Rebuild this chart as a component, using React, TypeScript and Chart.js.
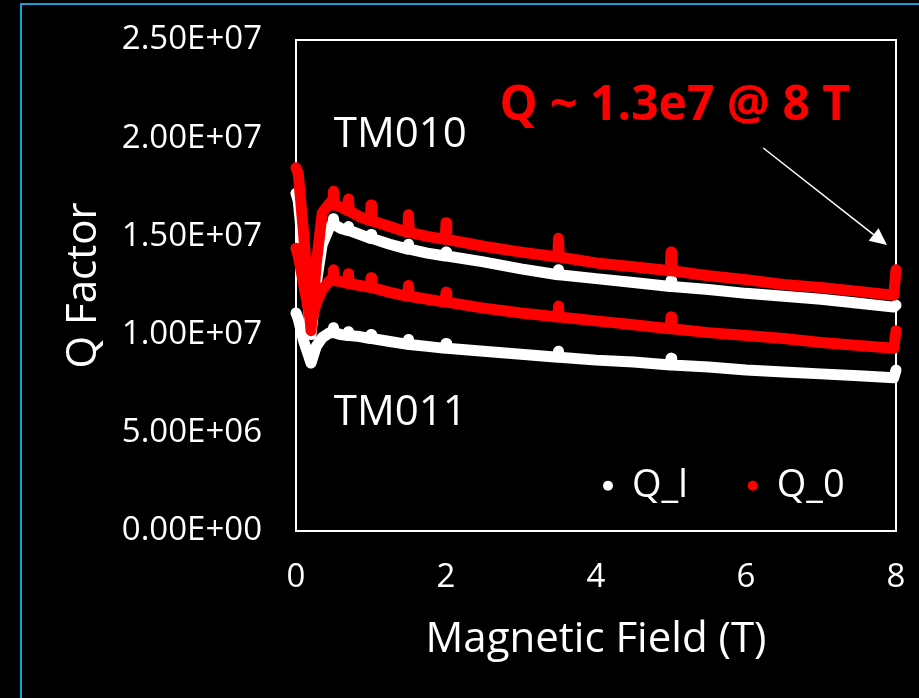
import React, { useEffect, useRef } from 'react';
import { Chart, registerables } from 'chart.js';

Chart.register(...registerables);

const FONT = '"Open Sans", "DejaVu Sans", sans-serif';

// Magnetic field (T) sample positions shared by all four traces
const fieldT = [0, 0.03, 0.1, 0.2, 0.27, 0.35, 0.45, 0.49, 0.5, 0.51, 0.6, 0.69, 0.7, 0.71, 0.85, 0.99, 1.0, 1.01, 1.25, 1.49, 1.5, 1.51, 1.75, 1.99, 2.0, 2.01, 2.5, 3.0, 3.49, 3.5, 3.51, 4.0, 4.5, 4.99, 5.0, 5.01, 5.5, 6.0, 6.5, 7.0, 7.5, 7.97, 8.0];

// Q_l (loaded Q), TM010 mode
const qlTM010 = [17.2e6, 16.8e6, 14.0e6, 10.0e6, 12.6e6, 14.6e6, 15.5e6, 15.6e6, 15.9e6, 15.6e6, 15.4e6, 15.3e6, 15.5e6, 15.3e6, 15.1e6, 14.9e6, 15.1e6, 14.9e6, 14.6e6, 14.35e6, 14.6e6, 14.35e6, 14.15e6, 14.0e6, 14.2e6, 14.0e6, 13.7e6, 13.35e6, 13.05e6, 13.3e6, 13.05e6, 12.85e6, 12.65e6, 12.45e6, 12.75e6, 12.45e6, 12.3e6, 12.1e6, 11.95e6, 11.8e6, 11.6e6, 11.4e6, 11.5e6];
// Q_l (loaded Q), TM011 mode
const qlTM011 = [11.1e6, 10.8e6, 9.7e6, 8.55e6, 9.4e6, 9.85e6, 10.1e6, 10.1e6, 10.35e6, 10.1e6, 10.0e6, 9.95e6, 10.15e6, 9.95e6, 9.9e6, 9.8e6, 10.0e6, 9.8e6, 9.65e6, 9.5e6, 9.75e6, 9.5e6, 9.4e6, 9.3e6, 9.55e6, 9.3e6, 9.15e6, 9.0e6, 8.85e6, 9.15e6, 8.85e6, 8.7e6, 8.6e6, 8.45e6, 8.8e6, 8.45e6, 8.35e6, 8.2e6, 8.1e6, 8.0e6, 7.9e6, 7.8e6, 8.2e6];
// Q_0 (unloaded Q), TM010 mode
const q0TM010 = [18.5e6, 18.2e6, 15.2e6, 10.2e6, 13.6e6, 16.2e6, 16.7e6, 16.6e6, 17.3e6, 16.6e6, 16.5e6, 16.3e6, 16.9e6, 16.3e6, 16.0e6, 15.8e6, 16.6e6, 15.8e6, 15.5e6, 15.2e6, 16.1e6, 15.2e6, 15.0e6, 14.85e6, 15.7e6, 14.85e6, 14.5e6, 14.2e6, 13.95e6, 14.9e6, 13.95e6, 13.65e6, 13.45e6, 13.25e6, 14.2e6, 13.25e6, 13.0e6, 12.8e6, 12.55e6, 12.4e6, 12.2e6, 12.0e6, 13.3e6];
// Q_0 (unloaded Q), TM011 mode
const q0TM011 = [14.4e6, 14.0e6, 12.6e6, 10.6e6, 11.6e6, 12.3e6, 12.75e6, 12.75e6, 13.3e6, 12.75e6, 12.7e6, 12.6e6, 13.1e6, 12.6e6, 12.5e6, 12.4e6, 12.9e6, 12.4e6, 12.15e6, 11.95e6, 12.5e6, 11.95e6, 11.8e6, 11.65e6, 12.15e6, 11.65e6, 11.35e6, 11.1e6, 10.9e6, 11.45e6, 10.9e6, 10.7e6, 10.5e6, 10.3e6, 10.9e6, 10.3e6, 10.1e6, 9.95e6, 9.8e6, 9.6e6, 9.45e6, 9.3e6, 10.2e6];

const xTickLabels = ['0', '2', '4', '6', '8'];
const yTickLabels = ['0.00E+00', '5.00E+06', '1.00E+07', '1.50E+07', '2.00E+07', '2.50E+07'];
const seriesNames = ['Q_l', 'Q_0'];
const seriesColors = ['#ffffff', '#ff0000'];
const modeLabels = ['TM010', 'TM011'];
const noteText = 'Q ~ 1.3e7 @ 8 T';
const xTitle = 'Magnetic Field (T)';
const yTitle = 'Q Factor';

const toPoints = (ys: number[]) => fieldT.map((x, i) => ({ x, y: ys[i] }));

const decorPlugin = {
  id: 'decor',
  beforeDraw(chart: any) {
    const { ctx, width, height } = chart;
    ctx.save();
    ctx.fillStyle = '#000000';
    ctx.fillRect(0, 0, width, height);
    ctx.strokeStyle = '#1a9fdb';
    ctx.lineWidth = 2;
    ctx.beginPath();
    ctx.moveTo(21, height);
    ctx.lineTo(21, 4);
    ctx.lineTo(width, 4);
    ctx.stroke();
    ctx.restore();
  },
  beforeDatasetsDraw(chart: any) {
    const { ctx, chartArea: a } = chart;
    ctx.save();
    ctx.strokeStyle = '#ffffff';
    ctx.lineWidth = 2;
    ctx.strokeRect(a.left, a.top, a.right - a.left, a.bottom - a.top);
    ctx.restore();
  },
  afterDatasetsDraw(chart: any) {
    const { ctx } = chart;
    const xs = chart.scales.x;
    const ys = chart.scales.y;
    const px = (v: number) => xs.getPixelForValue(v);
    const py = (v: number) => ys.getPixelForValue(v);
    ctx.save();
    ctx.textBaseline = 'middle';
    // mode labels
    ctx.fillStyle = '#ffffff';
    ctx.textAlign = 'center';
    ctx.font = `42px ${FONT}`;
    ctx.fillText(modeLabels[0], px(1.39), py(20.15e6));
    ctx.fillText(modeLabels[1], px(1.39), py(6.0e6));
    // note
    ctx.fillStyle = '#ff0000';
    ctx.font = `bold 48px ${FONT}`;
    ctx.fillText(noteText, px(5.05), py(21.6e6));
    // arrow
    const x1 = px(6.23), y1 = py(19.5e6), x2 = px(7.88), y2 = py(14.56e6);
    const ang = Math.atan2(y2 - y1, x2 - x1);
    const hl = 17, hw = 8;
    const bx = x2 - hl * Math.cos(ang), by = y2 - hl * Math.sin(ang);
    ctx.strokeStyle = '#ffffff';
    ctx.fillStyle = '#ffffff';
    ctx.lineWidth = 1.5;
    ctx.beginPath();
    ctx.moveTo(x1, y1);
    ctx.lineTo(bx, by);
    ctx.stroke();
    ctx.beginPath();
    ctx.moveTo(x2, y2);
    ctx.lineTo(bx + hw * Math.sin(ang), by - hw * Math.cos(ang));
    ctx.lineTo(bx - hw * Math.sin(ang), by + hw * Math.cos(ang));
    ctx.closePath();
    ctx.fill();
    // legend
    ctx.font = `38px ${FONT}`;
    ctx.textAlign = 'left';
    const legY = py(2.3e6);
    const legItems = [
      { dot: 4.16, text: 4.48 },
      { dot: 6.09, text: 6.41 },
    ];
    legItems.forEach((it, i) => {
      ctx.fillStyle = seriesColors[i];
      ctx.beginPath();
      ctx.arc(px(it.dot), legY, 5, 0, Math.PI * 2);
      ctx.fill();
      ctx.fillStyle = '#ffffff';
      ctx.fillText(seriesNames[i], px(it.text), legY);
    });
    ctx.restore();
  },
};

export default function App() {
  const canvasRef = useRef<HTMLCanvasElement | null>(null);

  useEffect(() => {
    document.body.style.margin = '0';
    document.body.style.background = '#000';
    const canvas = canvasRef.current;
    if (!canvas) return;
    const lineStyle = {
      showLine: true,
      pointRadius: 0,
      pointHoverRadius: 0,
      borderWidth: 11,
      borderCapStyle: 'round',
      borderJoinStyle: 'round',
      tension: 0,
      clip: false,
      fill: false,
    };
    const chart = new Chart(canvas, {
      type: 'scatter',
      data: {
        datasets: [
          { ...lineStyle, label: seriesNames[0], data: toPoints(qlTM010), borderColor: seriesColors[0], backgroundColor: seriesColors[0], order: 2 },
          { ...lineStyle, label: seriesNames[0], data: toPoints(qlTM011), borderColor: seriesColors[0], backgroundColor: seriesColors[0], order: 2 },
          { ...lineStyle, label: seriesNames[1], data: toPoints(q0TM010), borderColor: seriesColors[1], backgroundColor: seriesColors[1], order: 1 },
          { ...lineStyle, label: seriesNames[1], data: toPoints(q0TM011), borderColor: seriesColors[1], backgroundColor: seriesColors[1], order: 1 },
        ] as any,
      },
      options: {
        animation: false,
        responsive: false,
        devicePixelRatio: 1,
        layout: { padding: { top: 40, right: 23, left: 0, bottom: 0 } },
        plugins: {
          legend: { display: false },
          tooltip: { enabled: false },
        },
        scales: {
          x: {
            type: 'linear',
            min: 0,
            max: 8,
            grid: { display: false, drawTicks: false },
            border: { display: false },
            ticks: {
              stepSize: 2,
              color: '#ffffff',
              font: { family: FONT, size: 33 },
              padding: 27,
              maxRotation: 0,
              callback: (v: any) => xTickLabels[Math.round(Number(v) / 2)],
            },
            title: {
              display: true,
              text: xTitle,
              color: '#ffffff',
              font: { family: FONT, size: 42 },
              padding: { top: 0, bottom: 33 },
            },
            afterFit: (s: any) => {
              s.height = 167;
              s.paddingLeft = 0;
              s.paddingRight = 0;
              s.paddingTop = 0;
              s.paddingBottom = 0;
            },
          },
          y: {
            type: 'linear',
            min: 0,
            max: 2.5e7,
            grid: { display: false, drawTicks: false },
            border: { display: false },
            ticks: {
              stepSize: 5e6,
              color: '#ffffff',
              font: { family: FONT, size: 33 },
              padding: 34,
              callback: (v: any) => yTickLabels[Math.round(Number(v) / 5e6)],
            },
            title: {
              display: true,
              text: yTitle,
              color: '#ffffff',
              font: { family: FONT, size: 42 },
              padding: { top: 59, bottom: 0 },
            },
            afterFit: (s: any) => {
              s.width = 296;
              s.paddingLeft = 0;
              s.paddingRight = 0;
              s.paddingTop = 0;
              s.paddingBottom = 0;
            },
          },
        },
      } as any,
      plugins: [decorPlugin],
    });
    return () => chart.destroy();
  }, []);

  return (
    <div style={{ position: 'fixed', left: 0, top: 0, width: 919, height: 698, background: '#000' }}>
      <canvas ref={canvasRef} width={919} height={698} style={{ display: 'block', width: 919, height: 698 }} />
    </div>
  );
}
